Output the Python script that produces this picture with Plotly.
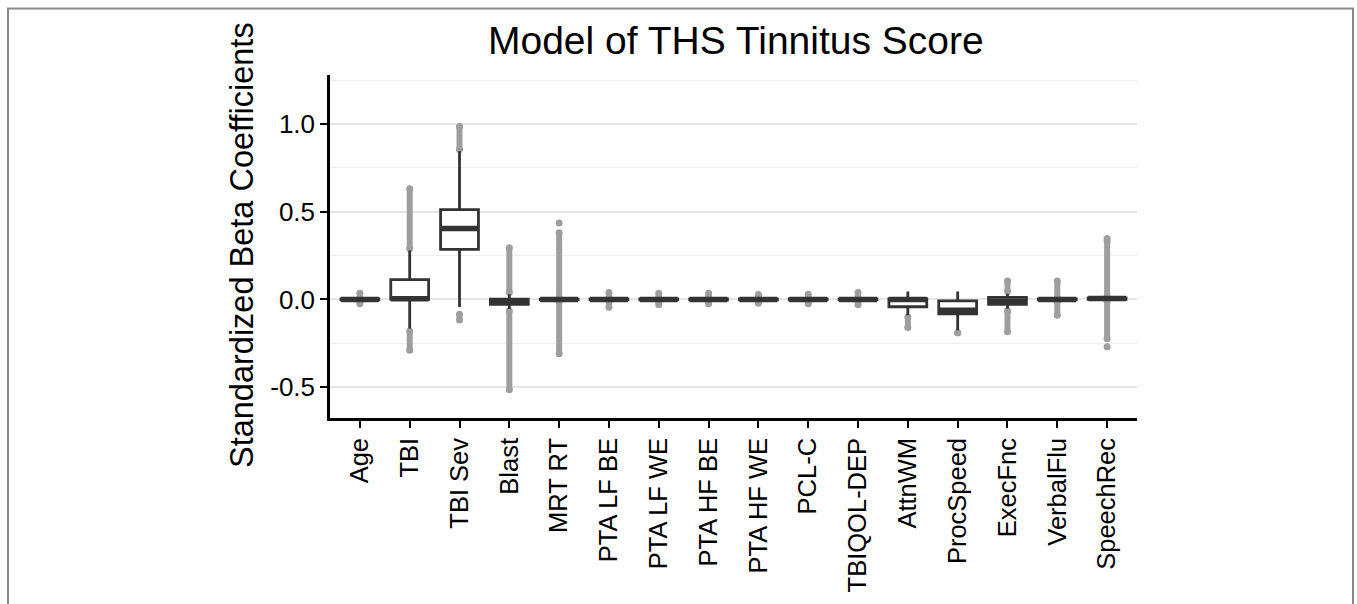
import plotly.graph_objects as go

# ---------------- data ----------------
categories = ["Age", "TBI", "TBI Sev", "Blast", "MRT RT", "PTA LF BE", "PTA LF WE",
              "PTA HF BE", "PTA HF WE", "PCL-C", "TBIQOL-DEP", "AttnWM", "ProcSpeed",
              "ExecFnc", "VerbalFlu", "SpeechRec"]

q1_vals     = [-0.003, 0.000, 0.285, -0.028, -0.002, -0.003, -0.003, -0.003, -0.003, -0.003, -0.003, -0.042, -0.083, -0.028, -0.003, 0.000]
median_vals = [0.000, 0.004, 0.404, -0.012, 0.000, 0.000, 0.000, 0.000, 0.000, 0.000, 0.000, 0.000, -0.062, -0.010, 0.000, 0.005]
q3_vals     = [0.003, 0.113, 0.512, 0.002, 0.002, 0.003, 0.003, 0.003, 0.003, 0.003, 0.003, 0.004, -0.008, 0.012, 0.003, 0.009]
lower_whisk = [-0.006, -0.166, -0.043, -0.055, -0.002, -0.006, -0.006, -0.006, -0.006, -0.006, -0.006, -0.090, -0.176, -0.053, -0.006, 0.000]
upper_whisk = [0.006, 0.278, 0.845, 0.030, 0.002, 0.006, 0.006, 0.006, 0.006, 0.006, 0.006, 0.045, 0.045, 0.032, 0.006, 0.009]

# outlier ranges (dense strips of points) above and below the whiskers
out_hi_start = [0.010, 0.290, 0.855, 0.040, 0.010, 0.010, 0.010, 0.010, 0.010, 0.010, 0.010, None, None, 0.045, 0.010, 0.015]
out_hi_end   = [0.035, 0.630, 0.985, 0.295, 0.380, 0.040, 0.035, 0.035, 0.028, 0.030, 0.040, None, None, 0.105, 0.105, 0.330]
out_lo_start = [-0.010, -0.180, -0.085, -0.065, -0.010, -0.010, -0.010, -0.010, -0.010, -0.010, -0.010, -0.100, -0.190, -0.065, -0.010, -0.010]
out_lo_end   = [-0.025, -0.290, -0.118, -0.515, -0.310, -0.045, -0.030, -0.025, -0.022, -0.025, -0.030, -0.160, -0.190, -0.185, -0.090, -0.225]
# isolated extreme outliers
iso_cat = ["MRT RT", "SpeechRec", "SpeechRec"]
iso_val = [0.435, 0.347, -0.270]

title_text = "Model of THS Tinnitus Score"
y_title = "Standardized Beta Coefficients"
y_range = [-0.676, 1.279]

# ---------------- styling ----------------
FONT = "Liberation Sans, Arial, Helvetica, sans-serif"
BOX_COL = "#333333"
OUT_COL = "#9e9e9e"
pos = list(range(len(categories)))
box_w = 0.76

fig = go.Figure()

# outliers (drawn underneath boxes)
ox, oy = [], []
for i in pos:
    for a, b in ((out_hi_start[i], out_hi_end[i]), (out_lo_start[i], out_lo_end[i])):
        if a is None:
            continue
        ox += [i, i, None]
        oy += [a, b, None]
fig.add_trace(go.Scatter(x=ox, y=oy, mode="lines+markers",
                         line=dict(color=OUT_COL, width=6),
                         marker=dict(color=OUT_COL, size=7),
                         showlegend=False, hoverinfo="skip"))
fig.add_trace(go.Scatter(x=[categories.index(c) for c in iso_cat], y=iso_val, mode="markers",
                         marker=dict(color=OUT_COL, size=7),
                         showlegend=False, hoverinfo="skip"))

# boxes on overlaying axis so they sit above outliers
fig.add_trace(go.Box(x=pos, q1=q1_vals, median=median_vals, q3=q3_vals,
                     lowerfence=lower_whisk, upperfence=upper_whisk,
                     width=box_w, whiskerwidth=0, boxpoints=False,
                     fillcolor="white", line=dict(color=BOX_COL, width=2.8),
                     yaxis="y2", showlegend=False, hoverinfo="skip"))

# thick median lines (ggplot fatten)
mx, my = [], []
for i in pos:
    mx += [i - box_w / 2, i + box_w / 2, None]
    my += [median_vals[i], median_vals[i], None]
fig.add_trace(go.Scatter(x=mx, y=my, mode="lines", line=dict(color=BOX_COL, width=5.5),
                         yaxis="y2", showlegend=False, hoverinfo="skip"))

L, R, T, B = 330, 220, 75, 184
W, H = 1357, 604
pw, ph = W - L - R, H - T - B


def py(y_px):  # pixel row -> paper y
    return (T + ph - y_px) / ph


def px(x_px):  # pixel column -> paper x
    return (x_px - L) / pw


fig.update_layout(
    width=W, height=H,
    margin=dict(l=L, r=R, t=T, b=B, pad=0),
    paper_bgcolor="white", plot_bgcolor="white",
    font=dict(family=FONT, color="black"),
    xaxis=dict(range=[-0.6, len(categories) - 0.4], tickmode="array", tickvals=pos,
               ticktext=categories, tickangle=-90, tickfont=dict(size=25.5, color="black"),
               showline=True, linecolor="black", linewidth=2.5,
               ticks="outside", ticklen=7, tickwidth=2.2, tickcolor="black",
               showgrid=False, zeroline=False),
    yaxis=dict(range=y_range, tickmode="array", tickvals=[-0.5, 0.0, 0.5, 1.0],
               ticktext=["-0.5", "0.0", "0.5", "1.0"], tickfont=dict(size=26, color="black"),
               showline=True, linecolor="black", linewidth=2.5,
               ticks="outside", ticklen=7, tickwidth=2.2, tickcolor="black",
               showgrid=True, gridcolor="#e6e6e6", gridwidth=2,
               minor=dict(tickvals=[-0.25, 0.25, 0.75, 1.25], showgrid=True,
                          gridcolor="#eeeeee", gridwidth=1.2, ticks=""),
               zeroline=False),
    yaxis2=dict(range=y_range, overlaying="y", visible=False, showgrid=False, zeroline=False),
    shapes=[dict(type="rect", xref="paper", yref="paper",
                 x0=px(8), x1=px(1353), y0=py(660), y1=py(8),
                 line=dict(color="#8a8a8a", width=2), fillcolor="rgba(0,0,0,0)", layer="below")],
    annotations=[
        dict(text=title_text, xref="paper", yref="paper", x=px(736), y=py(40),
             xanchor="center", yanchor="middle", showarrow=False,
             font=dict(size=39, color="black", family=FONT)),
        dict(text=y_title, xref="paper", yref="paper", x=px(242), y=py(246),
             xanchor="center", yanchor="middle", textangle=-90, showarrow=False,
             font=dict(size=32.5, color="black", family=FONT)),
    ],
)

fig.write_html("out.html", config={"displayModeBar": False},
               post_script="document.body.style.margin='0';document.body.style.overflow='hidden';")
